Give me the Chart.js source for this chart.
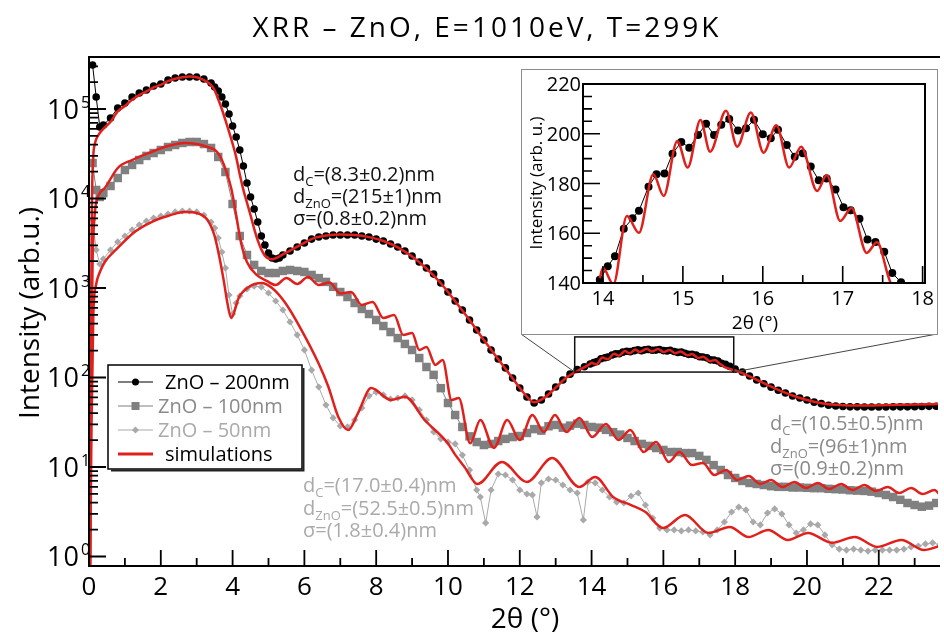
<!DOCTYPE html>
<html><head><meta charset="utf-8">
<script src="https://cdn.jsdelivr.net/npm/chart.js@4.4.0/dist/chart.umd.min.js"></script>
<style>
html,body{margin:0;padding:0;background:#fff;}
#wrap{position:relative;width:944px;height:633px;overflow:hidden;background:#fff;}
#main{position:absolute;left:0;top:0;}
#insetBox{position:absolute;left:521px;top:69px;width:415px;height:264px;border:1px solid #8c8c8c;background:#fff;}
#inset{position:absolute;left:0;top:0;}
</style></head><body>
<div id="wrap">
<canvas id="main" width="944" height="633"></canvas>
<div id="insetBox"><canvas id="inset" width="415" height="264"></canvas></div>
</div>
<script>
// ---------------- DATA ----------------
const chartTitle = 'XRR \u2013 ZnO, E=1010eV, T=299K';
const xAxisTitle = '2\u03b8 (\u00b0)';
const yAxisTitle = 'Intensity (arb.u.)';
const insetYTitle = 'Intensity (arb. u.)';
const seriesNames = ['ZnO \u2013 200nm', 'ZnO \u2013 100nm', 'ZnO \u2013 50nm', 'simulations'];
const xTickLabels = [0, 2, 4, 6, 8, 10, 12, 14, 16, 18, 20, 22];
const yTickPowers = [0, 1, 2, 3, 4, 5];
const insetXTicks = [14, 15, 16, 17, 18];
const insetYTicks = [140, 160, 180, 200, 220];
const zoomBox = [13.53, 17.96, 115, 284]; // x0, x1, y0, y1 (data units)

// ZnO 200nm data (main), low-angle part
const d200AX = [0.1,0.2,0.3,0.4,0.6,0.8,1.0,1.2,1.4,1.6,1.8,2.0,2.2,2.4,2.6,2.8,3.0,3.2,3.4,3.5,3.6,3.7,3.8,3.9,4.0,4.1,4.2,4.3,4.4,4.5,4.6,4.7,4.8,4.9,5.0,5.1,5.2,5.3,5.4,5.6,5.8,6.0,6.2,6.4,6.6,6.8,7.0,7.2,7.4,7.6,7.8,8.0,8.2,8.4,8.6,8.8,9.0,9.2,9.4,9.6,9.8,10.0,10.2,10.4,10.6,10.8,11.0,11.2,11.4,11.6,11.8,12.0,12.2,12.4,12.6,12.8,13.0,13.2,13.4,13.6,13.8];
const d200AY = [310000,136000,63000,66200,79300,102600,116700,136100,151000,162900,180700,190100,210900,221800,228000,228000,228000,216300,195400,176200,158900,136100,113800,87900,64600,48600,34800,23100,14900,10400,7640,5460,3810,3020,2460,2160,2110,2160,2340,2590,2870,3180,3520,3720,3810,3910,3910,3910,3910,3810,3720,3520,3350,3100,2870,2590,2280,1950,1670,1430,1140,902,716,568,439,339,262,203,161,128,98.6,76.3,60.5,51.9,56.1,65.5,78.3,93.8,109,123,132];
// ZnO 200nm data in the zoomed window (also shown in inset)
const insetX = [13.96,14.06,14.15,14.26,14.37,14.45,14.57,14.67,14.77,14.87,14.98,15.08,15.19,15.29,15.39,15.48,15.58,15.69,15.79,15.89,16.0,16.1,16.19,16.3,16.4,16.5,16.6,16.7,16.8,16.91,17.01,17.1,17.21,17.31,17.41,17.52,17.62,17.73];
const insetY = [141.3,146.7,150.8,161.8,166,169,178.7,183.7,184,192,196.7,194.4,199.5,204,199.5,203.6,205.9,201.3,202.2,205.6,199.8,198.2,201.6,195.5,190.8,192.2,186.8,181.3,182,177.6,170.5,169.2,165.8,157.5,156.5,152.6,144,140.3];
// ZnO 200nm data, high-angle part
const d200CX = [17.85,18.0,18.2,18.4,18.6,18.8,19.0,19.2,19.4,19.6,19.8,20.0,20.2,20.4,20.6,20.8,21.0,21.2,21.4,21.6,21.8,22.0,22.2,22.4,22.6,22.8,23.0,23.2,23.4,23.6];
const d200CY = [133,124,115,104,94,85,78,72,67,62,59,56,53,51,49,48,47.5,47,47,46.8,46.8,46.8,46.8,47,47,47,47.2,47.4,47.6,47.8];

// simulation for 200nm
const s200AX = [0.02,0.05,0.08,0.12,0.16,0.2,0.3,0.4,0.6,0.8,1.0,1.2,1.4,1.6,1.8,2.0,2.2,2.4,2.6,2.8,3.0,3.2,3.4,3.5,3.6,3.7,3.8,3.9,4.0,4.1,4.2,4.3,4.4,4.5,4.6,4.7,4.8,4.9,5.0,5.1,5.2,5.3,5.4,5.6,5.8,6.0,6.3,6.6,7.0,7.4,7.8,8.2,8.6,9.0,9.4,9.8,10.2,10.6,11.0,11.4,11.8,12.1,12.4,12.7,13.0,13.3,13.6];
const s200AY = [0.5,200,8000,30000,40000,46000,54000,60000,72000,94000,108000,127000,143000,157000,174000,186000,205000,218000,226000,230000,226000,210000,185000,162000,128000,100000,75000,56000,41000,29000,18500,12500,9000,6500,4600,3400,2700,2300,2130,2100,2150,2250,2380,2620,2900,3200,3650,3850,3950,3900,3700,3350,2850,2250,1650,1130,710,440,262,160,98,68,53,60,77,100,118];
const insetSimX = [13.96,14.0,14.13,14.3,14.45,14.63,14.76,14.93,15.06,15.22,15.34,15.54,15.68,15.85,16.01,16.17,16.33,16.48,16.68,16.8,16.97,17.11,17.3,17.43,17.57,17.7];
const insetSimY = [142,146,139.5,166.9,160.2,183.7,175,197.1,186.4,205.5,192.8,209.2,194.8,208.5,192.4,203.4,186.4,194.8,177,183.4,164.9,170.2,152.1,156.4,142.7,131];
const s200CX = [17.9,18.1,18.4,18.7,19.0,19.3,19.6,19.9,20.2,20.5,20.8,21.2,21.6,22.0,22.5,23.0,23.7];
const s200CY = [123,116,103,90,79,70,63,57.5,53.5,51,49.5,48.5,48.5,49,49.5,50,50.5];

// ZnO 100nm data
const d100X = [0.1,0.2,0.3,0.4,0.6,0.8,1.0,1.2,1.4,1.6,1.8,2.0,2.2,2.4,2.6,2.8,3.0,3.2,3.4,3.6,3.8,4.0,4.2,4.4,4.6,4.8,5.0,5.2,5.4,5.6,5.8,6.0,6.2,6.4,6.6,6.8,7.0,7.2,7.4,7.6,7.8,8.0,8.2,8.4,8.6,8.8,9.0,9.2,9.4,9.6,9.8,10.0,10.2,10.4,10.6,10.8,11.0,11.2,11.4,11.6,11.8,12.0,12.2,12.4,12.6,12.8,13.0,13.2,13.4,13.6,13.8,14.0,14.2,14.4,14.6,14.8,15.0,15.2,15.4,15.6,15.8,16.0,16.2,16.4,16.6,16.8,17.0,17.2,17.4,17.6,17.8,18.0,18.2,18.4,18.6,18.8,19.0,19.2,19.4,19.6,19.8,20.0,20.2,20.4,20.6,20.8,21.0,21.2,21.4,21.6,21.8,22.0,22.2,22.4,22.6,22.8,23.0,23.2,23.4,23.6];
const d100Y = [24900,12450,10400,11500,13800,16950,20800,23700,26900,29900,32200,34800,37600,39600,41700,42800,42800,40600,36700,29100,19770,8680,3810,2340,1810,1550,1470,1470,1550,1590,1550,1510,1400,1290,1170,1030,902,793,680,583,512,439,376,322,276,237,203,165,131,107,76,51.9,38.1,28,22,19,17.6,18.1,19.5,20.6,21.6,22.2,24,26.5,25.5,28.5,29.5,27.5,29,30.5,29.5,28,27.5,26,24.5,23,21.1,19.5,18.1,17.2,16.3,15.5,14.7,14.7,14.3,14.3,13.3,12,10.5,9.26,8.14,7.54,6.98,6.63,6.46,6.29,6.1,6.0,6.0,5.9,5.9,5.85,5.8,5.8,5.7,5.65,5.6,5.5,5.45,5.4,5.3,5.12,4.87,4.62,4.3,3.96,3.76,3.6,3.7,3.96];
// simulation for 100nm
const s100X = [0.03,0.06,0.1,0.15,0.2,0.3,0.44,0.8,1.2,1.74,2.2,2.66,3.0,3.3,3.57,3.76,3.96,4.1,4.23,4.4,4.67,4.95,5.2,5.5,5.8,6.1,6.4,6.7,7.0,7.3,7.6,7.9,8.2,8.5,8.75,9.0,9.2,9.4,9.65,9.85,10.1,10.3,10.62,10.9,11.28,11.65,12.0,12.35,12.67,12.98,13.3,13.66,14.02,14.4,14.75,15.08,15.45,15.8,16.15,16.45,16.8,17.1,17.42,17.75,18.05,18.38,18.7,19.0,19.32,19.65,19.97,20.3,20.62,20.95,21.27,21.6,21.92,22.25,22.57,22.9,23.22,23.55,23.7];
const s100Y = [0.5,100,2000,6000,9000,11500,13100,21900,26900,33100,38600,41700,40600,37600,33100,23700,13100,6540,3270,1950,1400,1200,1080,1293,1108,1327,1080,1150,870,902,646,698,462,499,299,314,203,219,138,157,56,59,18.4,33.5,16.3,33.5,20.0,38.1,24.6,38.1,24.6,35.3,21.6,30.2,20.0,25.9,14.7,19.0,11.4,14.7,10.5,11.1,8.14,9.26,7.16,7.93,6.46,7.16,5.98,6.8,5.83,6.63,5.68,6.46,5.53,6.29,5.39,5.98,5.12,5.83,4.99,5.53,4.9];

// ZnO 50nm data
const d50X = [0.1,0.2,0.3,0.4,0.6,0.8,1.0,1.2,1.4,1.6,1.8,2.0,2.2,2.4,2.6,2.8,3.0,3.2,3.4,3.5,3.6,3.7,3.8,3.9,4.0,4.1,4.2,4.4,4.6,4.8,5.0,5.2,5.4,5.6,5.8,6.0,6.2,6.4,6.6,6.8,7.0,7.2,7.4,7.6,7.8,8.0,8.2,8.4,8.6,8.8,9.0,9.2,9.4,9.6,9.8,10.0,10.2,10.4,10.6,10.8,10.9,11.05,11.2,11.4,11.6,11.8,12.0,12.2,12.35,12.48,12.6,12.8,13.0,13.2,13.4,13.6,13.77,13.9,14.1,14.3,14.5,14.7,14.9,15.1,15.3,15.5,15.7,15.9,16.1,16.3,16.5,16.7,16.9,17.1,17.3,17.5,17.7,17.9,18.1,18.3,18.5,18.7,18.9,19.1,19.3,19.5,19.7,19.9,20.1,20.3,20.5,20.7,20.9,21.1,21.3,21.5,21.7,21.9,22.1,22.3,22.5,22.7,22.9,23.1,23.3,23.5,23.7];
const d50Y = [5750,2660,1854,2110,2660,3270,3810,4450,5060,5600,6050,6370,6710,7070,7250,7250,7070,6540,5460,4680,3620,2520,1670,835,512,680,814,975,1050,1026,879,716,568,417,299,203,121,78.3,49.3,35.3,28.7,28.0,33.5,45.6,62.2,68.8,63.8,57.5,59.0,62.2,56.1,43.4,33.5,24.6,20.6,19.0,18.1,13.6,9.26,5.53,4.62,2.37,5.53,8.35,8.14,7.16,5.53,4.99,4.87,2.77,6.63,7.34,7.16,6.29,5.53,5.12,2.56,6.8,6.63,5.53,4.62,4.06,3.96,4.74,5.12,3.76,2.69,2.08,1.98,1.98,1.93,1.98,1.93,1.88,1.74,1.98,2.43,3.14,3.57,3.31,2.43,2.25,3.06,3.40,2.99,2.25,1.83,1.98,2.31,2.25,1.74,1.35,1.21,1.18,1.21,1.18,1.15,1.18,1.18,1.18,1.18,1.21,1.28,1.31,1.38,1.42,1.35];
// simulation for 50nm
const s50X = [0.03,0.07,0.12,0.2,0.3,0.44,0.8,1.27,1.74,2.19,2.66,3.0,3.3,3.49,3.62,3.76,3.85,3.96,4.18,4.45,4.8,5.1,5.47,5.92,6.39,6.67,6.94,7.22,7.5,7.86,8.41,8.8,9.35,9.99,10.17,10.46,10.82,11.5,12.2,12.9,13.66,14.1,14.6,15.1,15.5,15.99,16.6,17.26,17.85,18.37,18.92,19.47,20.03,20.7,21.33,21.96,22.63,23.26,23.7];
const s50Y = [0.5,30,500,1100,1500,1950,2800,4220,5460,6370,7070,6890,5750,3910,2340,1167,698,462,793,1026,1137,1000,680,339,145,78.3,36.7,25.9,40.6,76.3,56,61,33.5,18.5,14.3,10,6.46,11.4,6.8,12.6,5.98,7.73,4.62,3.76,3.14,2.08,2.91,1.83,2.14,1.65,1.98,1.53,1.83,1.42,1.65,1.28,1.53,1.18,1.31];

// fit parameter annotations
const annoBlack = [[['d',0],['C',1],['=(8.3\u00b10.2)nm',0]], [['d',0],['ZnO',1],['=(215\u00b11)nm',0]], [['\u03c3=(0.8\u00b10.2)nm',0]]];
const annoGray = [[['d',0],['C',1],['=(10.5\u00b10.5)nm',0]], [['d',0],['ZnO',1],['=(96\u00b11)nm',0]], [['\u03c3=(0.9\u00b10.2)nm',0]]];
const annoLight = [[['d',0],['C',1],['=(17.0\u00b10.4)nm',0]], [['d',0],['ZnO',1],['=(52.5\u00b10.5)nm',0]], [['\u03c3=(1.8\u00b10.4)nm',0]]];

// ---------------- STYLE / DRAW ----------------
const FONT = "'Open Sans', sans-serif";
Chart.defaults.font.family = FONT;
const RED = '#e0201c', GRAY = '#808080', LGRAY = '#a9a9a9';
const pts = (xs, ys) => xs.map((x, i) => ({x: x, y: ys[i]}));

function drawParts(ctx, x, y, parts, size, subSize, color) {
  ctx.fillStyle = color; ctx.textAlign = 'left'; ctx.textBaseline = 'alphabetic';
  let cx = x;
  for (const [t, sub] of parts) {
    ctx.font = (sub ? subSize : size) + 'px ' + FONT;
    ctx.fillText(t, cx, sub ? y + 5 : y);
    cx += ctx.measureText(t).width;
  }
}

const mainDecor = {
  id: 'mainDecor',
  afterDraw(chart) {
    const ctx = chart.ctx, a = chart.chartArea, xs = chart.scales.x, ys = chart.scales.y;
    ctx.save();
    // zoom window and connectors
    const rx0 = xs.getPixelForValue(zoomBox[0]), rx1 = xs.getPixelForValue(zoomBox[1]);
    const ryT = ys.getPixelForValue(zoomBox[3]), ryB = ys.getPixelForValue(zoomBox[2]);
    ctx.strokeStyle = '#111'; ctx.lineWidth = 1.5;
    ctx.strokeRect(rx0, ryT, rx1 - rx0, ryB - ryT);
    ctx.lineWidth = 1; ctx.strokeStyle = '#444';
    ctx.beginPath(); ctx.moveTo(rx0, ryB); ctx.lineTo(521, 334); ctx.moveTo(rx1, ryB); ctx.lineTo(937, 334); ctx.stroke();
    // frame
    ctx.strokeStyle = '#000'; ctx.lineWidth = 2;
    ctx.beginPath();
    ctx.moveTo(a.right + 2, a.top); ctx.lineTo(a.left, a.top); ctx.lineTo(a.left, a.bottom); ctx.lineTo(a.right + 2, a.bottom);
    ctx.stroke();
    // x ticks
    ctx.lineWidth = 1.8; ctx.beginPath();
    for (let v = 0; v <= 23; v++) {
      const px = xs.getPixelForValue(v);
      const len = (v % 2 === 0) ? 16 : 8;
      ctx.moveTo(px, a.bottom); ctx.lineTo(px, a.bottom - len);
    }
    // y ticks
    for (const p of yTickPowers) {
      for (let k = 1; k <= 9; k++) {
        const val = k * Math.pow(10, p);
        if (val > ys.max) break;
        const py = ys.getPixelForValue(val);
        const len = k === 1 ? 17 : 9;
        ctx.moveTo(a.left, py); ctx.lineTo(a.left + len, py);
      }
    }
    ctx.stroke();
    // x tick labels
    ctx.fillStyle = '#000'; ctx.font = '26px ' + FONT; ctx.textAlign = 'center'; ctx.textBaseline = 'alphabetic';
    for (const v of xTickLabels) ctx.fillText(String(v), xs.getPixelForValue(v), 595);
    // y tick labels 10^n
    for (const p of yTickPowers) {
      const py = ys.getPixelForValue(Math.pow(10, p));
      ctx.textAlign = 'left'; ctx.font = '27px ' + FONT;
      ctx.letterSpacing = '1px';
      ctx.fillText('10', 47, py + 10);
      ctx.letterSpacing = '0px';
      ctx.font = '16px ' + FONT;
      ctx.fillText(String(p), 81, py - 1);
    }
    // axis titles
    ctx.font = '28px ' + FONT; ctx.textAlign = 'center';
    ctx.fillText(xAxisTitle, 525, 628);
    ctx.save(); ctx.translate(39, 313); ctx.rotate(-Math.PI / 2);
    ctx.fillText(yAxisTitle, 0, 0); ctx.restore();
    // title
    ctx.font = '28px ' + FONT; ctx.letterSpacing = '3px';
    ctx.fillText(chartTitle, 487, 37);
    ctx.letterSpacing = '0px';
    // annotations
    annoBlack.forEach((ln, i) => drawParts(ctx, 293, 181 + i * 22, ln, 20, 13, '#111'));
    annoGray.forEach((ln, i) => drawParts(ctx, 770, 430 + i * 22.5, ln, 20, 13, '#8a8a8a'));
    annoLight.forEach((ln, i) => drawParts(ctx, 303, 492 + i * 22.5, ln, 20, 13, '#aaaaaa'));
    // legend
    const L = 108, T = 365, R = 302, B = 469;
    ctx.fillStyle = '#fff'; ctx.fillRect(L, T, R - L, B - T);
    ctx.strokeStyle = '#000'; ctx.lineWidth = 1.5; ctx.strokeRect(L, T, R - L, B - T);
    ctx.lineWidth = 2; ctx.strokeStyle = '#222';
    ctx.beginPath(); ctx.moveTo(R + 1.5, T + 3); ctx.lineTo(R + 1.5, B + 1.5); ctx.lineTo(L + 3, B + 1.5); ctx.stroke();
    const rows = [382, 406, 430, 454];
    const cols = ['#000', GRAY, LGRAY, RED];
    const tcols = ['#000', '#8a8a8a', '#aaaaaa', '#000'];
    const tx = [165, 158, 158, 165];
    rows.forEach((ry, i) => {
      ctx.strokeStyle = cols[i]; ctx.lineWidth = i === 3 ? 3 : 1.2;
      ctx.beginPath(); ctx.moveTo(118, ry); ctx.lineTo(153, ry); ctx.stroke();
      ctx.fillStyle = cols[i];
      if (i === 0) { ctx.beginPath(); ctx.arc(135.5, ry, 3.5, 0, Math.PI * 2); ctx.fill(); }
      if (i === 1) { ctx.fillRect(131.5, ry - 4, 8, 8); }
      if (i === 2) { ctx.beginPath(); ctx.moveTo(135.5, ry - 3.5); ctx.lineTo(139, ry); ctx.lineTo(135.5, ry + 3.5); ctx.lineTo(132, ry); ctx.closePath(); ctx.fill(); }
      ctx.fillStyle = tcols[i]; ctx.font = '20px ' + FONT; ctx.textAlign = 'left';
      ctx.fillText(seriesNames[i], tx[i], ry + 7);
    });
    ctx.restore();
  }
};

new Chart(document.getElementById('main'), {
  type: 'line',
  data: {
    datasets: [
      {label: 'sim200', data: pts([...s200AX, ...insetSimX, ...s200CX], [...s200AY, ...insetSimY, ...s200CY]), borderColor: RED, borderWidth: 2.5, pointRadius: 0, cubicInterpolationMode: 'monotone', order: 0},
      {label: 'sim100', data: pts(s100X, s100Y), borderColor: RED, borderWidth: 2.5, pointRadius: 0, cubicInterpolationMode: 'monotone', order: 0},
      {label: 'sim50', data: pts(s50X, s50Y), borderColor: RED, borderWidth: 2.5, pointRadius: 0, cubicInterpolationMode: 'monotone', order: 0},
      {label: seriesNames[0], data: pts([...d200AX, ...insetX, ...d200CX], [...d200AY, ...insetY, ...d200CY]), borderColor: '#000', borderWidth: 1, pointStyle: 'circle', pointRadius: 3.8, pointBackgroundColor: '#000', pointBorderWidth: 0, order: 1},
      {label: seriesNames[1], data: pts(d100X, d100Y), borderColor: GRAY, borderWidth: 1, pointStyle: 'rect', pointRadius: 6, pointBackgroundColor: GRAY, pointBorderWidth: 0, order: 2},
      {label: seriesNames[2], data: pts(d50X, d50Y), borderColor: LGRAY, borderWidth: 1, pointStyle: 'rectRot', pointRadius: 3.6, pointBackgroundColor: LGRAY, pointBorderWidth: 0, order: 3}
    ]
  },
  options: {
    responsive: false, animation: false, devicePixelRatio: 1,
    layout: {padding: {top: 57, left: 0, right: 0, bottom: 0}},
    plugins: {legend: {display: false}, tooltip: {enabled: false}, title: {display: false}},
    elements: {line: {tension: 0}},
    scales: {
      x: {type: 'linear', min: 0, max: 23.65, grid: {display: false}, border: {display: false}, ticks: {display: false}, afterFit(s) { s.height = 67; }},
      y: {type: 'logarithmic', min: 0.783, max: 381000, grid: {display: false}, border: {display: false}, ticks: {display: false}, afterFit(s) { s.width = 89; }}
    }
  },
  plugins: [mainDecor]
});

const insetDecor = {
  id: 'insetDecor',
  afterDraw(chart) {
    const ctx = chart.ctx, a = chart.chartArea, xs = chart.scales.x, ys = chart.scales.y;
    ctx.save();
    ctx.strokeStyle = '#000'; ctx.lineWidth = 2;
    ctx.strokeRect(a.left, a.top, a.right - a.left, a.bottom - a.top);
    ctx.lineWidth = 1.6; ctx.beginPath();
    for (let v = insetXTicks[0]; v <= insetXTicks[insetXTicks.length - 1]; v += 0.5) {
      const px = xs.getPixelForValue(v);
      const len = Number.isInteger(v) ? 17 : 8;
      ctx.moveTo(px, a.bottom); ctx.lineTo(px, a.bottom - len);
    }
    for (let v = insetYTicks[0]; v <= insetYTicks[insetYTicks.length - 1]; v += 5) {
      const py = ys.getPixelForValue(v);
      const len = (v % 20 === 0) ? 17 : 9;
      ctx.moveTo(a.left, py); ctx.lineTo(a.left + len, py);
    }
    ctx.stroke();
    ctx.fillStyle = '#000'; ctx.font = '20px ' + FONT; ctx.textAlign = 'center'; ctx.textBaseline = 'alphabetic';
    for (const v of insetXTicks) ctx.fillText(String(v), xs.getPixelForValue(v), 235);
    ctx.textAlign = 'right';
    for (const v of insetYTicks) ctx.fillText(String(v), 59, ys.getPixelForValue(v) + 7);
    ctx.textAlign = 'center'; ctx.font = '19px ' + FONT;
    ctx.fillText(xAxisTitle, 233, 259);
    ctx.save(); ctx.translate(20, 113); ctx.rotate(-Math.PI / 2);
    ctx.font = '17px ' + FONT; ctx.fillText(insetYTitle, 0, 0); ctx.restore();
    ctx.restore();
  }
};

new Chart(document.getElementById('inset'), {
  type: 'line',
  data: {
    datasets: [
      {label: 'sim', data: pts(insetSimX, insetSimY), borderColor: RED, borderWidth: 2.5, pointRadius: 0, cubicInterpolationMode: 'monotone', order: 0},
      {label: 'data', data: pts(insetX, insetY), borderColor: '#000', borderWidth: 1, pointRadius: 4, pointStyle: 'circle', pointBackgroundColor: '#000', pointBorderWidth: 0, order: 1}
    ]
  },
  options: {
    responsive: false, animation: false, devicePixelRatio: 1,
    layout: {padding: {top: 14, right: 12, left: 0, bottom: 0}},
    plugins: {legend: {display: false}, tooltip: {enabled: false}, title: {display: false}},
    elements: {line: {tension: 0}},
    scales: {
      x: {type: 'linear', min: 13.75, max: 18.03, grid: {display: false}, border: {display: false}, ticks: {display: false}, afterFit(s) { s.height = 51; }},
      y: {type: 'linear', min: 140, max: 220, grid: {display: false}, border: {display: false}, ticks: {display: false}, afterFit(s) { s.width = 61; }}
    }
  },
  plugins: [insetDecor]
});
</script>
</body></html>
